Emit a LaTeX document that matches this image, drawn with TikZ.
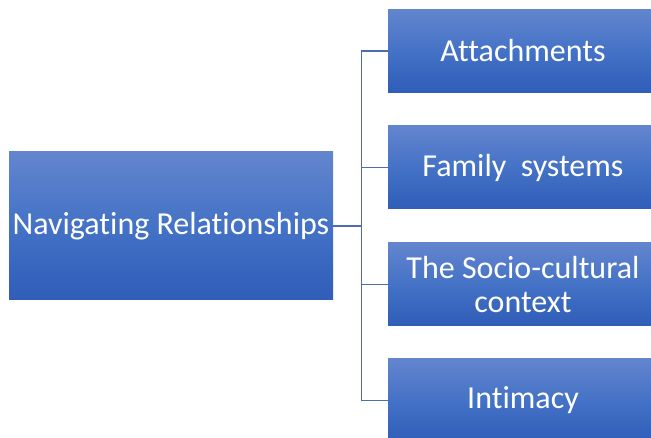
\documentclass[tikz,border=0pt]{standalone}
\usepackage{fontspec}
\setmainfont{Carlito}[Ligatures=NoCommon]
\usetikzlibrary{positioning, calc}
\definecolor{boxtop}{RGB}{99,133,206}
\definecolor{boxmid}{RGB}{68,114,198}
\definecolor{boxbot}{RGB}{47,93,184}
\definecolor{linkblue}{RGB}{78,108,176}
\tikzset{
        topic-box/.style={
            rectangle, inner sep=0pt, align=center, text=white,
            top color=boxtop, bottom color=boxbot, middle color=boxmid,
            font=\fontsize{32}{34}\selectfont
        },
        sub-box/.style={topic-box, minimum width=270pt, minimum height=83pt},
        link/.style={draw=linkblue, line width=1.3pt},
}
\begin{document}
\begin{tikzpicture}[x=1pt, y=-1pt]

        \useasboundingbox (0,0) rectangle (651,438);

        % DRAW NODES
        \node[topic-box, minimum width=324pt, minimum height=148pt] (NAV) at (171,226) {Navigating Relationships};
        \node[sub-box] (ATT) at (523,51)    {Attachments};
        \node[sub-box] (FAM) at (523,167.5) {Family\ \ systems};
        \node[sub-box] (SOC) at (523,284.5) {The Socio-cultural\\context};
        \node[sub-box] (INT) at (523,400.5) {Intimacy};
        \coordinate    (BUS) at ($(NAV.east)+(28,0)$);

        % CONNECT BRANCHES
        \draw [link] (NAV.east) -- (BUS) |- (ATT.west);
        \draw [link] (NAV.east) -- (BUS) |- (FAM.west);
        \draw [link] (NAV.east) -- (BUS) |- (SOC.west);
        \draw [link] (NAV.east) -- (BUS) |- (INT.west);

\end{tikzpicture}
\end{document}
